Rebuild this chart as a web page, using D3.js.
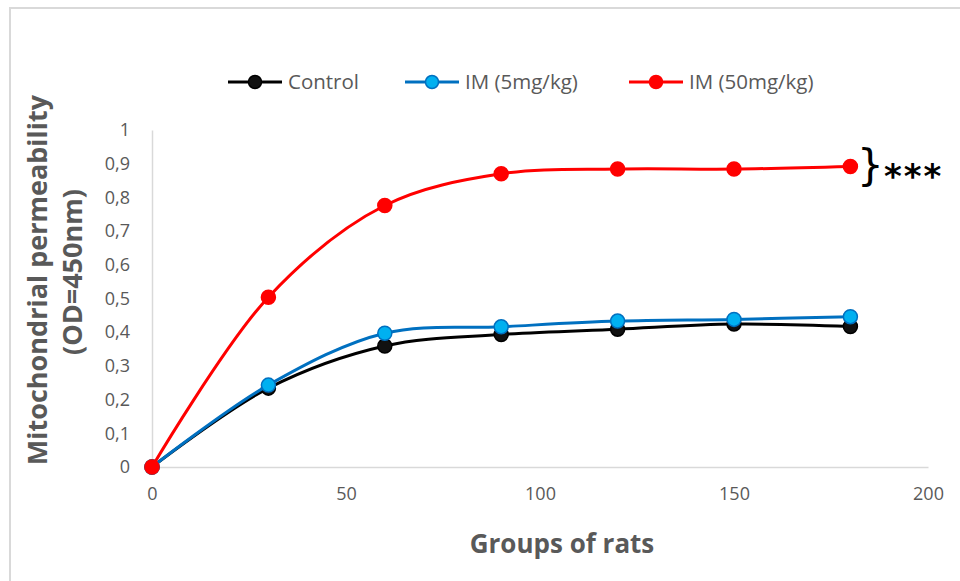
<!DOCTYPE html>
<html>
<head>
<meta charset="utf-8">
<script src="https://cdnjs.cloudflare.com/ajax/libs/d3/7.8.5/d3.min.js"></script>
<style>
  body { margin: 0; background: #fff; }
  text { font-family: "Open Sans", "Noto Sans", sans-serif; }
</style>
</head>
<body>
<div id="chart"></div>
<script>
// data
var times = [0, 30, 60, 90, 120, 150, 180];
var control = [0, 0.234, 0.359, 0.393, 0.409, 0.424, 0.417];
var im5 = [0, 0.243, 0.397, 0.416, 0.433, 0.438, 0.446];
var im50 = [0, 0.504, 0.776, 0.870, 0.884, 0.884, 0.892];
var seriesNames = ["Control", "IM (5mg/kg)", "IM (50mg/kg)"];
var xTicks = [0, 50, 100, 150, 200];
var yTicks = [0, 0.1, 0.2, 0.3, 0.4, 0.5, 0.6, 0.7, 0.8, 0.9, 1];

var svgWidth = 960;
var svgHeight = 581;

var margin = { top: 130, right: 32, bottom: 114, left: 152 };
var width = 928 - margin.left;
var height = 467 - margin.top;

var svg = d3.select("#chart")
  .append("svg")
  .attr("width", svgWidth)
  .attr("height", svgHeight);

// frame (only top and left edges visible)
svg.append("path")
  .attr("d", "M10,581 L10,8 L960,8")
  .attr("fill", "none")
  .attr("stroke", "#d9d9d9")
  .attr("stroke-width", 2);

var chartGroup = svg.append("g")
  .attr("transform", `translate(${margin.left}, ${margin.top})`);

var x = d3.scaleLinear().domain([0, 200]).range([0, width]);
var y = d3.scaleLinear().domain([0, 1]).range([height, 0]);

// axes
var xAxis = chartGroup.append("g")
  .attr("transform", `translate(0, ${height})`)
  .call(d3.axisBottom(x).tickValues(xTicks).tickSize(0).tickPadding(20));
var yAxis = chartGroup.append("g")
  .call(d3.axisLeft(y).tickValues(yTicks).tickSize(0).tickPadding(22)
    .tickFormat(d => String(d).replace(".", ",")));

[xAxis, yAxis].forEach(a => {
  a.select(".domain").attr("stroke", "#d9d9d9").attr("stroke-width", 1.5);
  a.selectAll("text")
    .attr("fill", "#595959")
    .style("font-size", "18px")
    .style("font-family", "'Open Sans', sans-serif");
});

var series = [
  { name: seriesNames[0], values: control, line: "#000000", fill: "#111111", stroke: "#000000" },
  { name: seriesNames[1], values: im5, line: "#0070C0", fill: "#00B0F0", stroke: "#0070C0" },
  { name: seriesNames[2], values: im50, line: "#FF0000", fill: "#FF0000", stroke: "#FF0000" }
];

var line = d3.line()
  .x((d, i) => x(times[i]))
  .y(d => y(d))
  .curve(d3.curveCatmullRom.alpha(0.5));

series.forEach(s => {
  chartGroup.append("path")
    .datum(s.values)
    .attr("d", line)
    .attr("fill", "none")
    .attr("stroke", s.line)
    .attr("stroke-width", 3);

  chartGroup.selectAll(null)
    .data(s.values)
    .enter()
    .append("circle")
    .attr("cx", (d, i) => x(times[i]))
    .attr("cy", d => y(d))
    .attr("r", 7)
    .attr("fill", s.fill)
    .attr("stroke", s.stroke)
    .attr("stroke-width", 1.5);
});

// significance bracket
var lastY = margin.top + y(im50[im50.length - 1]);
svg.append("text")
  .attr("x", 857)
  .attr("y", lastY + 14)
  .attr("font-size", "42px")
  .attr("fill", "#000")
  .style("font-family", "'DejaVu Sans', sans-serif")
  .text("}");
svg.append("text")
  .attr("x", 884)
  .attr("y", lastY + 22)
  .attr("font-size", "34px")
  .attr("font-weight", "bold")
  .attr("fill", "#000")
  .attr("letter-spacing", "2px")
  .style("font-family", "'DejaVu Sans', sans-serif")
  .text("***");

// legend
var legendX = [228, 405, 629];
var legend = svg.selectAll(".legend")
  .data(series)
  .enter()
  .append("g")
  .attr("class", "legend")
  .attr("transform", (d, i) => `translate(${legendX[i]}, 82)`);
legend.append("line")
  .attr("x1", 0).attr("x2", 54)
  .attr("stroke", d => d.line)
  .attr("stroke-width", 3);
legend.append("circle")
  .attr("cx", 27).attr("r", 6.5)
  .attr("fill", d => d.fill)
  .attr("stroke", d => d.stroke)
  .attr("stroke-width", 1.5);
legend.append("text")
  .attr("x", 60)
  .attr("dy", "0.35em")
  .attr("fill", "#595959")
  .attr("font-size", "20.5px")
  .text(d => d.name);

// axis titles
svg.append("text")
  .attr("x", 562)
  .attr("y", 553)
  .attr("text-anchor", "middle")
  .attr("fill", "#595959")
  .attr("font-size", "26px")
  .attr("font-weight", "bold")
  .text("Groups of rats");

svg.append("text")
  .attr("transform", "translate(47, 280) rotate(-90)")
  .attr("text-anchor", "middle")
  .attr("fill", "#595959")
  .attr("font-size", "27px")
  .attr("font-weight", "bold")
  .text("Mitochondrial permeability");
svg.append("text")
  .attr("transform", "translate(82, 272) rotate(-90)")
  .attr("text-anchor", "middle")
  .attr("fill", "#595959")
  .attr("font-size", "27px")
  .attr("font-weight", "bold")
  .text("(OD=450nm)");
</script>
</body>
</html>
